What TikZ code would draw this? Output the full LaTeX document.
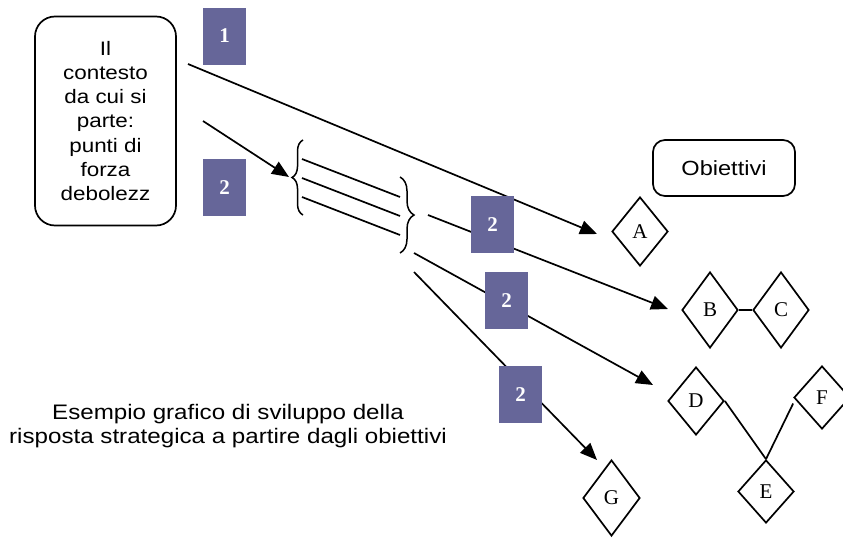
\documentclass[tikz,border=0pt]{standalone}
\usepackage{fontspec}
\setmainfont{Liberation Serif}
\newfontfamily\labelfont[FakeStretch=1.15]{Liberation Sans}
\usetikzlibrary{shapes.geometric,arrows.meta,decorations.pathreplacing}

\definecolor{tagblue}{RGB}{102,102,153}

\tikzset{
  line/.style={line width=1.7pt},
  arrowline/.style={line width=1.7pt,-{Triangle[length=17pt,width=14pt]}},
  tag/.style={fill=tagblue, minimum width=43pt, minimum height=57pt, inner sep=0pt,
    text=white, font=\fontsize{21}{21}\selectfont\bfseries},
  goal/.style={draw, line width=1.7pt, shape=diamond, minimum width=56pt, inner sep=0pt,
    font=\fontsize{21}{21}\selectfont},
  roundbox/.style={draw, line width=1.7pt, rounded corners=20pt, inner sep=0pt},
  bracket/.style={line width=1.5pt, decorate, decoration={brace, amplitude=#1}},
}

\begin{document}
\begin{tikzpicture}[x=1pt,y=-1pt]
  \useasboundingbox (0,0) rectangle (843,538);
  \clip (0,0) rectangle (843,538);

  % starting context and goal header
  \node[roundbox, minimum width=141pt, minimum height=209pt, align=center,
        font=\labelfont\fontsize{19.5}{24.2}\selectfont] (ctx) at (105.5,121)
        {Il\\contesto\\da cui si\\parte:\\punti di\\forza\\debolezz};
  \node[roundbox, rounded corners=12pt, minimum width=142pt, minimum height=56pt,
        font=\labelfont\fontsize{20.5}{20.5}\selectfont] (obj) at (724,168) {Obiettivi};

  % goals
  \node[goal, minimum height=69pt] (A) at (640,231.5) {A};
  \node[goal, minimum height=76pt] (B) at (710,310) {B};
  \node[goal, minimum height=76pt] (C) at (781,310) {C};
  \node[goal, minimum height=68pt] (D) at (696,401) {D};
  \node[goal, minimum height=63pt] (E) at (766,491.5) {E};
  \node[goal, minimum height=63pt] (F) at (822,397.5) {F};
  \node[goal, minimum width=57pt, minimum height=76pt] (G) at (611.5,498) {G};

  \draw[line] (B.east) -- (C.west);
  \draw[line] (D.east) -- (E.north);
  \draw[line] ([yshift=-6pt]F.west) -- (E.north);

  % free ends of the connectors
  \coordinate (s1) at (188,64);   \coordinate (t1) at (597,234);
  \coordinate (s2) at (203,121);  \coordinate (t2) at (289,177);
  \coordinate (b1a) at (302,159); \coordinate (b1b) at (400,197);
  \coordinate (b2a) at (302,178); \coordinate (b2b) at (400,216);
  \coordinate (b3a) at (302,197); \coordinate (b3b) at (400,235);
  \coordinate (sB) at (428,215);  \coordinate (tB) at (668,309);
  \coordinate (sD) at (414,253);  \coordinate (tD) at (653,385);
  \coordinate (sG) at (414,272);  \coordinate (tG) at (597,460);

  \draw[arrowline] (s1) -- (t1);
  \draw[arrowline] (s2) -- (t2);

  % grouped factors
  \draw[bracket=11pt] (303,215) -- (303,140);
  \draw[line] (b1a) -- (b1b);
  \draw[line] (b2a) -- (b2b);
  \draw[line] (b3a) -- (b3b);
  \draw[bracket=14pt] (400,177) -- (400,253);

  \draw[arrowline] (sB) -- (tB);
  \draw[arrowline] (sD) -- (tD);
  \draw[arrowline] (sG) -- (tG);

  % step tags
  \node[tag] (tag1) at (224.5,36) {1};
  \node[tag] (tag2a) at (224.5,187.5) {2};
  \node[tag] (tag2b) at (492.5,224.5) {2};
  \node[tag] (tag2c) at (506.5,300.5) {2};
  \node[tag] (tag2d) at (520.5,394.5) {2};

  % caption
  \node[align=center, inner sep=0pt, font=\labelfont\fontsize{21}{24}\selectfont]
    (caption) at (228,426.5)
    {Esempio grafico di sviluppo della\\risposta strategica a partire dagli obiettivi};
\end{tikzpicture}
\end{document}
